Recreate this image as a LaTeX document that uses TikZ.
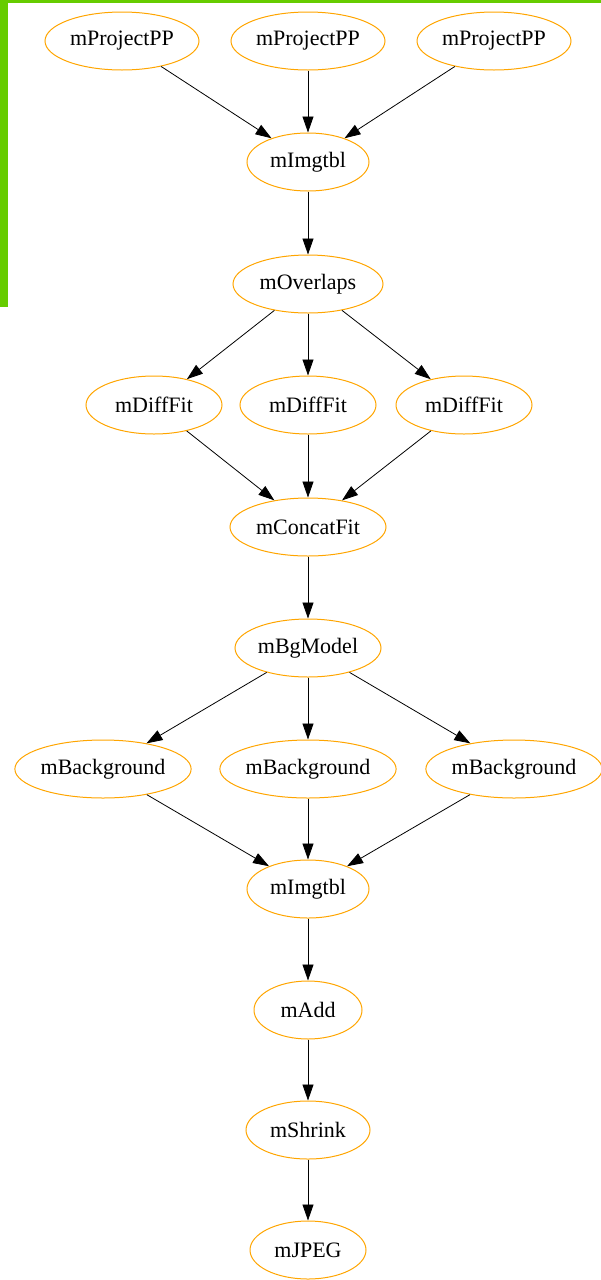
\documentclass[tikz,border=0pt]{standalone}
\usepackage{fontspec}
\setmainfont{Liberation Serif}
\usetikzlibrary{shapes.geometric,arrows.meta}
\definecolor{gvorange}{HTML}{FFA500}
\definecolor{barg}{HTML}{66CC00}
\begin{document}
\begin{tikzpicture}[x=1pt,y=-1pt,
  job/.style={ellipse,draw=gvorange,line width=1pt,inner sep=0pt,minimum height=58pt,font=\fontsize{22}{24}\selectfont},
  edge/.style={draw=black,line width=0.8pt,-{Triangle[length=16pt,width=11pt]}}]
\useasboundingbox (0,0) rectangle (601,1280);
\fill[barg] (0,0) rectangle (601,3);
\fill[barg] (0,0) rectangle (8,307);
% nodes
\node[job,minimum width=154pt] (p1) at (122,41) {mProjectPP};
\node[job,minimum width=154pt] (p2) at (308,41) {mProjectPP};
\node[job,minimum width=154pt] (p3) at (494,41) {mProjectPP};
\node[job,minimum width=122pt] (i1) at (308,162) {mImgtbl};
\node[job,minimum width=150pt] (ov) at (308,284) {mOverlaps};
\node[job,minimum width=136pt] (d1) at (154,405) {mDiffFit};
\node[job,minimum width=136pt] (d2) at (308,405) {mDiffFit};
\node[job,minimum width=136pt] (d3) at (464,405) {mDiffFit};
\node[job,minimum width=156pt] (cf) at (308,527) {mConcatFit};
\node[job,minimum width=146pt] (bm) at (308,648) {mBgModel};
\node[job,minimum width=174pt] (b1) at (103,769) {mBackground};
\node[job,minimum width=172pt] (b2) at (308,769) {mBackground};
\node[job,minimum width=174pt] (b3) at (514,769) {mBackground};
\node[job,minimum width=122pt] (i2) at (308,889) {mImgtbl};
\node[job,minimum width=108pt] (ad) at (308,1010) {mAdd};
\node[job,minimum width=124pt] (sh) at (308,1130) {mShrink};
\node[job,minimum width=116pt] (jp) at (308,1250) {mJPEG};
% edges
\draw[edge] (p1) -- (i1);
\draw[edge] (p2) -- (i1);
\draw[edge] (p3) -- (i1);
\draw[edge] (i1) -- (ov);
\draw[edge] (ov) -- (d1);
\draw[edge] (ov) -- (d2);
\draw[edge] (ov) -- (d3);
\draw[edge] (d1) -- (cf);
\draw[edge] (d2) -- (cf);
\draw[edge] (d3) -- (cf);
\draw[edge] (cf) -- (bm);
\draw[edge] (bm) -- (b1);
\draw[edge] (bm) -- (b2);
\draw[edge] (bm) -- (b3);
\draw[edge] (b1) -- (i2);
\draw[edge] (b2) -- (i2);
\draw[edge] (b3) -- (i2);
\draw[edge] (i2) -- (ad);
\draw[edge] (ad) -- (sh);
\draw[edge] (sh) -- (jp);
\end{tikzpicture}
\end{document}
